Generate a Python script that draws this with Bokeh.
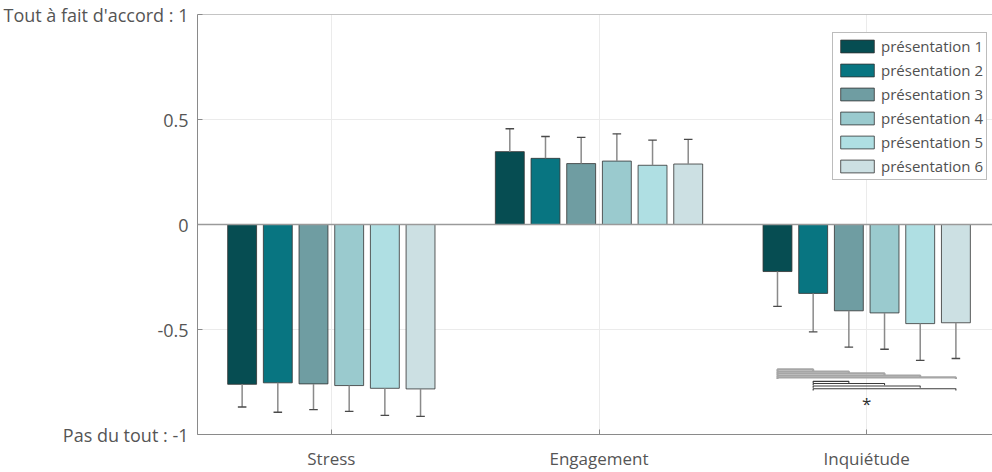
from bokeh.plotting import figure
from bokeh.models import FixedTicker, Span, Legend, LegendItem, ColumnDataSource
from bokeh.core.properties import value
from bokeh.embed import file_html
from bokeh.resources import INLINE

# ---------------- data ----------------
categories = ["Stress", "Engagement", "Inquiétude"]
series = ["présentation 1", "présentation 2", "présentation 3",
          "présentation 4", "présentation 5", "présentation 6"]
colors = ["#064d52", "#087581", "#6f9da2", "#9acace", "#afdfe3", "#cce0e3"]

stress_mean = [-0.761, -0.754, -0.759, -0.767, -0.780, -0.783]
stress_err = [0.108, 0.140, 0.123, 0.123, 0.129, 0.131]
engagement_mean = [0.347, 0.315, 0.290, 0.302, 0.282, 0.288]
engagement_err = [0.109, 0.104, 0.125, 0.130, 0.120, 0.117]
inquietude_mean = [-0.224, -0.328, -0.411, -0.421, -0.472, -0.468]
inquietude_err = [0.166, 0.183, 0.173, 0.173, 0.175, 0.170]

y_ticks = [-1, -0.5, 0, 0.5, 1]
y_tick_labels = ["Pas du tout : -1", "-0.5", "0", "0.5", "Tout à fait d'accord : 1"]

# significance comparisons (in Inquiétude group): presentation pairs and bracket levels
cmp_from = [1, 1, 1, 1, 1, 2, 2, 2, 2]
cmp_to = [2, 3, 4, 5, 6, 3, 4, 5, 6]
cmp_y = [-0.690, -0.700, -0.709, -0.719, -0.728, -0.747, -0.757, -0.769, -0.782]
star_y = -0.850

means = [stress_mean, engagement_mean, inquietude_mean]
errs = [stress_err, engagement_err, inquietude_err]

# ---------------- figure ----------------
TEXT = "#555555"
FONT = "Open Sans"

p = figure(width=992, height=472, x_range=(0.5, 3.47), y_range=(-1, 1),
           output_backend="svg", toolbar_location=None,
           min_border_left=196, min_border_right=0, min_border_top=14, min_border_bottom=36)
p.outline_line_color = None
p.background_fill_color = "white"

group_x = [1, 2, 3]
step = 0.1333
bar_w = 0.108

def offset(i):
    return (i - 2.5) * step

legend_items = []
for i, name in enumerate(series):
    xs = [g + offset(i) for g in group_x]
    tops = [m[i] for m in means]
    src = ColumnDataSource(dict(x=xs, top=tops))
    r = p.vbar(x="x", top="top", bottom=0, width=bar_w, source=src,
               fill_color=colors[i], line_color="#333333", line_alpha=0.8, line_width=1)
    legend_items.append(LegendItem(label=name, renderers=[r]))

# error bars (one-sided, away from zero)
ex, ey0, ey1 = [], [], []
for gi, g in enumerate(group_x):
    for i in range(6):
        m = means[gi][i]
        e = errs[gi][i]
        ex.append(g + offset(i))
        ey0.append(m)
        ey1.append(m + e if m >= 0 else m - e)
cap = 0.016
p.segment(x0=ex, y0=ey0, x1=ex, y1=ey1, line_color="#8a8a8a", line_width=1.5)
p.segment(x0=[x - cap for x in ex], y0=ey1, x1=[x + cap for x in ex], y1=ey1,
          line_color="#4a4a4a", line_width=1.3)

# zero line and top border
p.add_layout(Span(location=0, dimension="width", line_color="#9a9a9a", line_width=1.5))
p.add_layout(Span(location=1, dimension="width", line_color="#8a8a8a", line_width=1))

# significance brackets
tick_d = 0.008
bxs, bys, bcol, bw = [], [], [], []
for a, b, yv in zip(cmp_from, cmp_to, cmp_y):
    x1 = 3 + offset(a - 1)
    x2 = 3 + offset(b - 1)
    bxs.append([x1, x1, x2, x2])
    bys.append([yv - tick_d, yv, yv, yv - tick_d])
    bcol.append("#a6a6a6" if a == 1 else "#3c3c3c")
    bw.append(2.2 if a == 1 else 1.1)
p.multi_line(xs=bxs, ys=bys, line_color=bcol, line_width=bw)
p.text(x=[3.0], y=[star_y], text=["*"], text_align="center", text_baseline="middle",
       text_font=value(FONT), text_font_size="17px", text_color="#303030")

# axes
p.xaxis.ticker = FixedTicker(ticks=group_x)
p.xaxis.major_label_overrides = {g: c for g, c in zip(group_x, categories)}
p.yaxis.ticker = FixedTicker(ticks=y_ticks)
p.yaxis.major_label_overrides = {t: l for t, l in zip(y_ticks, y_tick_labels)}
for ax in (p.xaxis, p.yaxis):
    ax.axis_line_color = "#8a8a8a"
    ax.axis_line_width = 1
    ax.major_tick_line_color = "#8a8a8a"
    ax.major_tick_in = 5
    ax.major_tick_out = 0
    ax.minor_tick_line_color = None
    ax.major_label_text_font = FONT
    ax.major_label_text_color = TEXT
p.xaxis.major_label_text_font_size = "17px"
p.yaxis.major_label_text_font_size = "18px"
p.xaxis.major_label_standoff = 12
p.yaxis.major_label_standoff = 9

p.xgrid.ticker = FixedTicker(ticks=group_x)
p.ygrid.ticker = FixedTicker(ticks=y_ticks)
p.xgrid.grid_line_color = "#ebebeb"
p.ygrid.grid_line_color = "#ebebeb"

legend = Legend(items=legend_items, location=(635, 254))
legend.label_text_font = FONT
legend.label_text_font_size = "15px"
legend.label_text_color = "#505050"
legend.glyph_width = 42
legend.glyph_height = 16
legend.label_height = 16
legend.label_standoff = 3
legend.spacing = 4
legend.padding = 3
legend.margin = 0
legend.border_line_color = "#7a7a7a"
legend.border_line_width = 1
legend.background_fill_color = "white"
legend.background_fill_alpha = 1
p.add_layout(legend)

open("out.html", "w").write(file_html(p, INLINE))
